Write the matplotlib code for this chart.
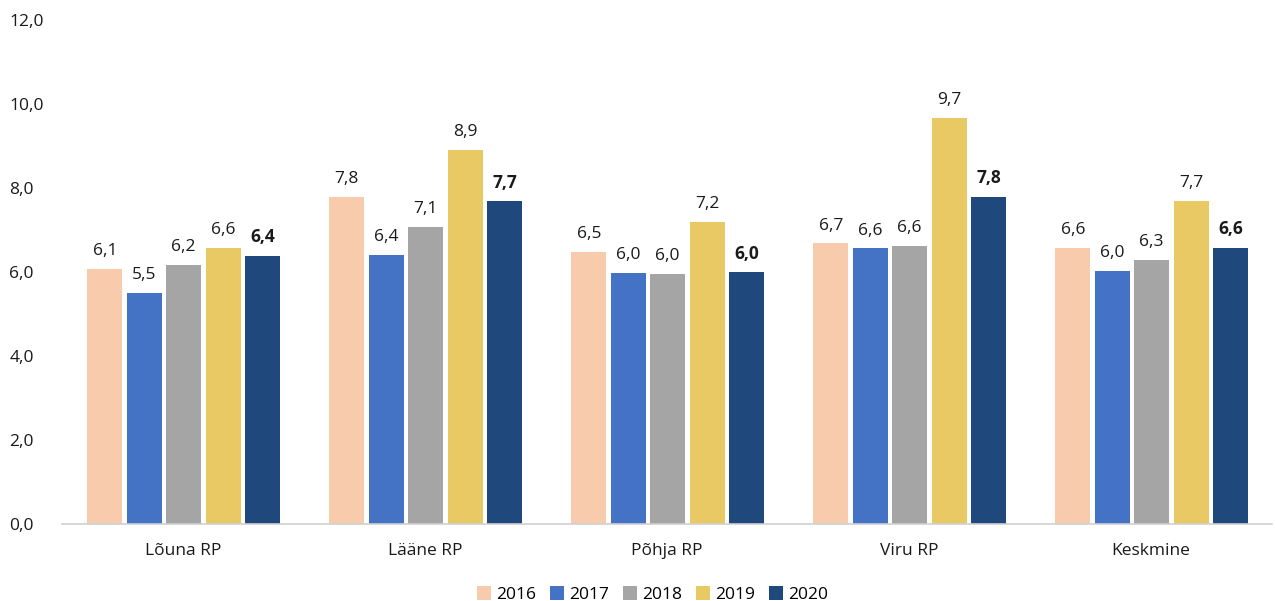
import matplotlib.pyplot as plt
import numpy as np

plt.rcParams['font.family'] = ['Open Sans', 'DejaVu Sans']

categories = ['Lõuna RP', 'Lääne RP', 'Põhja RP', 'Viru RP', 'Keskmine']
years = ['2016', '2017', '2018', '2019', '2020']
values = {
    '2016': [6.07, 7.79, 6.48, 6.68, 6.58],
    '2017': [5.50, 6.41, 5.98, 6.56, 6.02],
    '2018': [6.17, 7.08, 5.96, 6.63, 6.29],
    '2019': [6.58, 8.91, 7.20, 9.67, 7.70],
    '2020': [6.38, 7.68, 5.99, 7.79, 6.58],
}
colors = ['#F8CBAD', '#4472C4', '#A5A5A5', '#E8C963', '#1F497D']

fig = plt.figure(figsize=(12.75, 6.01), dpi=100)
ax = fig.add_axes([62 / 1275, 1 - 524 / 601, 1210 / 1275, 504 / 601])

x = np.arange(len(categories))
pitch = 0.163
width = 0.145
for i, yr in enumerate(years):
    pos = x + (i - 2) * pitch + 0.003
    bars = ax.bar(pos, values[yr], width, color=colors[i], label=yr, zorder=2)
    for b, v in zip(bars, values[yr]):
        ax.annotate(f'{v:.1f}'.replace('.', ','), (b.get_x() + b.get_width() / 2, v),
                    xytext=(0, 7), textcoords='offset points', ha='center', va='bottom',
                    fontsize=12.5, color='#1a1a1a',
                    fontweight='bold' if yr == '2020' else 'normal')

ax.set_xlim(-0.5, 4.5)
ax.set_ylim(0, 12)
ax.set_yticks(np.arange(0, 12.1, 2))
ax.set_yticklabels([f'{t:.1f}'.replace('.', ',') for t in np.arange(0, 12.1, 2)])
ax.set_xticks(x)
ax.set_xticklabels(categories)
ax.tick_params(axis='both', length=0, labelsize=12.5, colors='#1a1a1a')
ax.tick_params(axis='y', pad=38)
ax.tick_params(axis='x', pad=14)
for s in ['top', 'right', 'left']:
    ax.spines[s].set_visible(False)
ax.spines['bottom'].set_color('#d0d0d0')
ax.spines['bottom'].set_linewidth(1.2)
for lbl in ax.get_yticklabels():
    lbl.set_horizontalalignment('left')

ax.legend(loc='center', bbox_to_anchor=(0.488, -0.14), ncol=5, frameon=False,
          fontsize=12.5, handlelength=0.8, handleheight=0.8, handletextpad=0.3, columnspacing=0.8)

fig.savefig('out.png', dpi=100)
